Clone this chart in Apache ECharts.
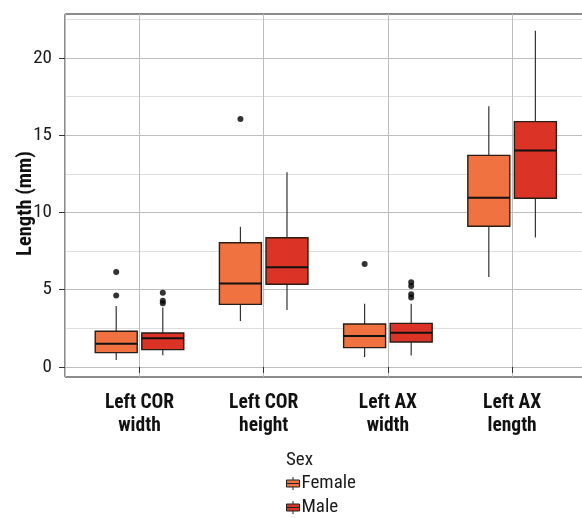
<!DOCTYPE html>
<html>
<head>
<meta charset="utf-8">
<style>html,body{margin:0;padding:0;background:#fff;}#c{width:582px;height:518px;}</style>
<script src="https://cdn.jsdelivr.net/npm/echarts@6/dist/echarts.min.js"></script>
</head>
<body>
<div id="c"></div>
<script>
// ---- data ----
const categories = ['Left COR\nwidth', 'Left COR\nheight', 'Left AX\nwidth', 'Left AX\nlength'];
const seriesNames = ['Female', 'Male'];
// [category index, lower whisker, Q1, median, Q3, upper whisker]
const femaleBoxes = [
  [0, 0.45, 0.93, 1.51, 2.31, 3.94],
  [1, 2.97, 4.05, 5.41, 8.04, 9.07],
  [2, 0.65, 1.25, 2.00, 2.78, 4.10],
  [3, 5.82, 9.11, 10.95, 13.70, 16.87]
];
const maleBoxes = [
  [0, 0.76, 1.12, 1.86, 2.20, 3.85],
  [1, 3.68, 5.35, 6.46, 8.36, 12.60],
  [2, 0.74, 1.62, 2.22, 2.82, 4.10],
  [3, 8.38, 10.92, 14.01, 15.88, 21.77]
];
const femaleOutliers = [[0, 6.14], [0, 4.63], [1, 16.06], [2, 6.66]];
const maleOutliers = [[0, 4.81], [0, 4.29], [0, 4.12], [2, 5.48], [2, 5.24], [2, 4.70], [2, 4.49]];
const yTicks = [0, 5, 10, 15, 20];

// ---- styling / layout constants ----
const FONT = "'Roboto Condensed', 'Liberation Sans Narrow', Roboto, sans-serif";
const colors = { Female: '#F07241', Male: '#DC3327' };
const DODGE = 0.1875;   // fraction of band between group centre and box centre
const BOXW = 0.338;     // box width as fraction of band
const Y_MIN = -0.65, Y_MAX = 22.85;
const BAND_GRID_W = 496.8;

function boxRenderer(sign, color) {
  return function (params, api) {
    const cat = api.value(0);
    const band = api.size([1, 0])[0];
    const off = sign * band * DODGE;
    const half = band * BOXW / 2;
    const pt = v => api.coord([cat, v]);
    const lo = pt(api.value(1)), q1 = pt(api.value(2)), md = pt(api.value(3)), q3 = pt(api.value(4)), hi = pt(api.value(5));
    const cx = lo[0] + off;
    const wStyle = { stroke: '#333333', lineWidth: 1.2 };
    return {
      type: 'group',
      children: [
        { type: 'line', shape: { x1: cx, y1: hi[1], x2: cx, y2: q3[1] }, style: wStyle },
        { type: 'line', shape: { x1: cx, y1: q1[1], x2: cx, y2: lo[1] }, style: wStyle },
        { type: 'rect', shape: { x: cx - half, y: q3[1], width: half * 2, height: q1[1] - q3[1] },
          style: { fill: color, stroke: '#2a1c16', lineWidth: 1.4 } },
        { type: 'line', shape: { x1: cx - half, y1: md[1], x2: cx + half, y2: md[1] },
          style: { stroke: '#111111', lineWidth: 2 } }
      ]
    };
  };
}

const chart = echarts.init(document.getElementById('c'), null, { renderer: 'canvas' });
chart.setOption({
  animation: false,
  backgroundColor: '#ffffff',
  textStyle: { fontFamily: FONT },
  title: {
    text: 'Sex', left: 286, top: 451, padding: 0,
    textStyle: { fontFamily: FONT, fontSize: 19, fontWeight: 'normal', color: '#1a1a1a' }
  },
  legend: {
    data: seriesNames, orient: 'vertical', left: 286, top: 474, padding: 0,
    itemWidth: 13, itemHeight: 13, itemGap: 5,
    icon: 'path://M0,3H13V10H0ZM0,6.5H13M6.5,0V3M6.5,10V13',
    itemStyle: { borderColor: '#222', borderWidth: 1 },
    textStyle: { fontFamily: FONT, fontSize: 19, color: '#1a1a1a', padding: [0, 0, 0, -3] }
  },
  grid: [
    { left: 65, top: 14, width: 521.6, height: 363, show: true, borderColor: '#1a1a1a', borderWidth: 1,
      backgroundColor: '#fff', containLabel: false, outerBoundsMode: 'none' },
    { left: 77.4, top: 14, width: BAND_GRID_W, height: 363, containLabel: false, outerBoundsMode: 'none' }
  ],
  xAxis: [
    { gridIndex: 0, type: 'value', min: 0.4, max: 4.6, axisLine: { show: false }, axisTick: { show: false },
      axisLabel: { show: false }, splitLine: { show: true, lineStyle: { color: '#bdbdbd', width: 1 } } },
    { gridIndex: 1, type: 'category', data: categories, axisLine: { show: false },
      axisTick: { show: true, alignWithLabel: true, length: 6, lineStyle: { color: '#333' } },
      axisLabel: { fontFamily: FONT, fontSize: 19.5, fontWeight: 'bold', color: '#111', lineHeight: 23, margin: 15 },
      splitLine: { show: false } }
  ],
  yAxis: [
    { gridIndex: 0, type: 'value', min: Y_MIN, max: Y_MAX,
      name: 'Length (mm)', nameLocation: 'middle', nameGap: 29, nameRotate: 90, nameMoveOverlap: false,
      nameTextStyle: { fontFamily: FONT, fontSize: 20.5, fontWeight: 'bold', color: '#111', padding: [0, 16, 0, 0] },
      axisLine: { show: false },
      axisTick: { show: true, length: 6, customValues: yTicks, lineStyle: { color: '#333' } },
      axisLabel: { customValues: yTicks, fontFamily: FONT, fontSize: 19, color: '#1a1a1a', margin: 13 },
      splitLine: { show: true, lineStyle: { color: '#bdbdbd', width: 1 } },
      minorTick: { show: false, splitNumber: 2 },
      minorSplitLine: { show: true, lineStyle: { color: '#dedede', width: 1 } } },
    { gridIndex: 1, type: 'value', min: Y_MIN, max: Y_MAX, show: false, splitLine: { show: false } }
  ],
  series: [
    { name: 'Female', type: 'custom', xAxisIndex: 1, yAxisIndex: 1, data: femaleBoxes,
      encode: { x: 0, y: [1, 2, 3, 4, 5] }, itemStyle: { color: colors.Female },
      renderItem: boxRenderer(-1, colors.Female), z: 3 },
    { name: 'Male', type: 'custom', xAxisIndex: 1, yAxisIndex: 1, data: maleBoxes,
      encode: { x: 0, y: [1, 2, 3, 4, 5] }, itemStyle: { color: colors.Male },
      renderItem: boxRenderer(1, colors.Male), z: 3 },
    { name: 'Female outliers', type: 'scatter', xAxisIndex: 1, yAxisIndex: 1, data: femaleOutliers,
      symbolSize: 6, symbolOffset: [-BAND_GRID_W / categories.length * DODGE, 0], itemStyle: { color: '#000' }, z: 4 },
    { name: 'Male outliers', type: 'scatter', xAxisIndex: 1, yAxisIndex: 1, data: maleOutliers,
      symbolSize: 6, symbolOffset: [BAND_GRID_W / categories.length * DODGE, 0], itemStyle: { color: '#000' }, z: 4 }
  ]
});
</script>
</body>
</html>
